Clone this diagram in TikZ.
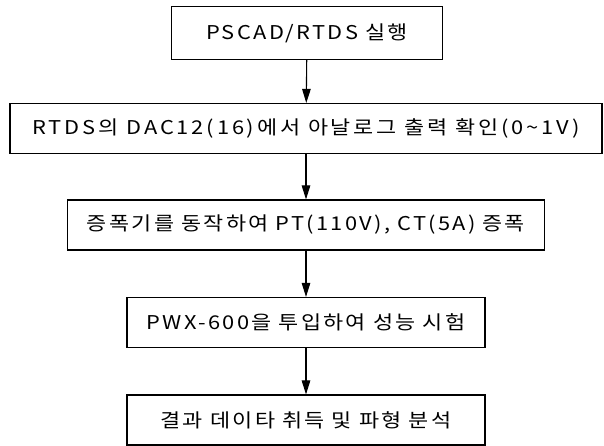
\documentclass[tikz,border=0pt]{standalone}
\usepackage{fontspec}
\setmainfont{Noto Sans CJK KR}
\usetikzlibrary{arrows.meta}
\tikzset{
  stepbox/.style={draw,line width=1.1pt,minimum height=50pt,inner sep=0pt,font=\fontsize{19}{22}\selectfont\addfontfeature{FakeStretch=1.15,LetterSpace=12}},
  flow/.style={-{Triangle[length=14pt,width=8.5pt]},line width=1.1pt}
}
\begin{document}
\begin{tikzpicture}[x=1pt,y=1pt]
  \useasboundingbox (0,0) rectangle (604,446);
  \node[stepbox,minimum width=271pt,minimum height=53pt] (run) at (307,413) {PSCAD/RTDS 실행};
  \node[stepbox,minimum width=592pt] (dac) at (306,317.5) {\addfontfeature{LetterSpace=15}RTDS의 DAC12(16)에서 아날로그 출력 확인(0\textasciitilde 1V)};
  \node[stepbox,minimum width=477pt] (amp) at (306,221) {증폭기를 동작하여 PT(110V), CT(5A) 증폭};
  \node[stepbox,minimum width=358pt] (test) at (306,123.5) {PWX-600을 투입하여 성능 시험};
  \node[stepbox,minimum width=358pt] (anal) at (306,26) {결과 데이타 취득 및 파형 분석};
  \draw[flow] (run) -- (dac);
  \draw[flow] (dac) -- (amp);
  \draw[flow] (amp) -- (test);
  \draw[flow] (test) -- (anal);
\end{tikzpicture}
\end{document}
